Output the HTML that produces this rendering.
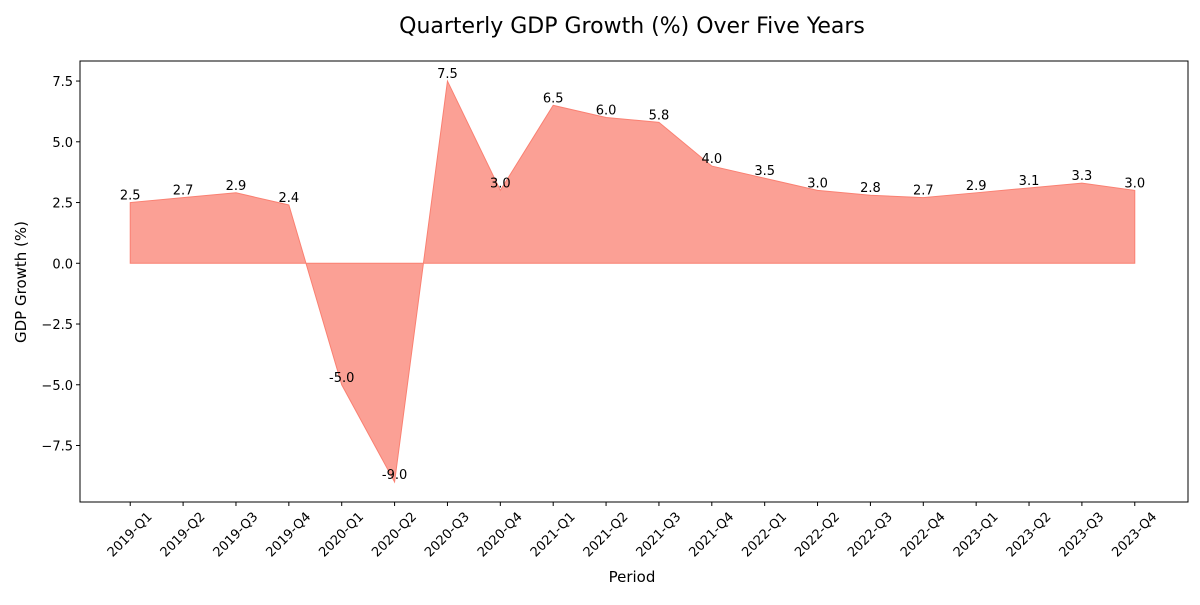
<!DOCTYPE html>
<html><head><meta charset="utf-8"><style>
body{margin:0;background:#fff;font-family:"Liberation Sans","DejaVu Sans",sans-serif}
svg text{font-family:"DejaVu Sans","Liberation Sans",sans-serif}
</style></head><body>
<svg id="chart" width="1200" height="600">
<text x="632" y="33" text-anchor="middle" font-size="22">Quarterly GDP Growth (%) Over Five Years</text>
<g id="plot"></g>
<rect x="80" y="61" width="1108" height="441" fill="none" stroke="#000" stroke-width="1"/>
<text x="632" y="582" text-anchor="middle" font-size="15">Period</text>
<text transform="translate(26,282) rotate(-90)" text-anchor="middle" font-size="15">GDP Growth (%)</text>
</svg>
<script>
const categories=["2019-Q1","2019-Q2","2019-Q3","2019-Q4","2020-Q1","2020-Q2","2020-Q3","2020-Q4","2021-Q1","2021-Q2","2021-Q3","2021-Q4","2022-Q1","2022-Q2","2022-Q3","2022-Q4","2023-Q1","2023-Q2","2023-Q3","2023-Q4"];
const growth=[2.5,2.7,2.9,2.4,-5.0,-9.0,7.5,3.0,6.5,6.0,5.8,4.0,3.5,3.0,2.8,2.7,2.9,3.1,3.3,3.0];
const yTicks=[-7.5,-5.0,-2.5,0.0,2.5,5.0,7.5];
const NS="http://www.w3.org/2000/svg";
const L=80,R=1185,T=61,B=502;
const n=categories.length;
const xMin=-0.05*(n-1),xMax=(n-1)*1.05;
const dMin=Math.min(...growth,0),dMax=Math.max(...growth,0),pad=(dMax-dMin)*0.05;
const yMin=dMin-pad,yMax=dMax+pad;
const x=i=>L+(i-xMin)/(xMax-xMin)*(R-L);
const y=v=>B-(v-yMin)/(yMax-yMin)*(B-T);
const g=document.getElementById('plot');
function mk(t,a){const e=document.createElementNS(NS,t);for(const k in a)e.setAttribute(k,a[k]);g.appendChild(e);return e;}
let d=`M${x(0)},${y(0)}`;growth.forEach((v,i)=>d+=` L${x(i)},${y(v)}`);d+=` L${x(n-1)},${y(0)} Z`;
const area=mk('path',{d:d,fill:'#FA8072','fill-opacity':0.75,stroke:'#FA8072','stroke-width':1});


growth.forEach((v,i)=>{
 const t=mk('text',{x:x(i),y:y(v)-3,'text-anchor':'middle','font-size':13});t.textContent=v.toFixed(1);
 
 
});
yTicks.forEach(v=>{
 const tk=mk('line',{x1:L-4,x2:L,y1:y(v),y2:y(v),stroke:'#000'});
 
 
 const t=mk('text',{x:L-7,y:y(v)+5,'text-anchor':'end','font-size':13});t.textContent=v.toFixed(1).replace('-','\u2212');
 
 
});
categories.forEach((c,i)=>{
 const tk=mk('line',{x1:x(i),x2:x(i),y1:B,y2:B+4,stroke:'#000'});
 
 
 const t=mk('text',{transform:`translate(${x(i)},${B+33}) rotate(-45)`,'text-anchor':'middle','font-size':13,'dominant-baseline':'middle'});t.textContent=c;
 
 
});
</script>
</body></html>
